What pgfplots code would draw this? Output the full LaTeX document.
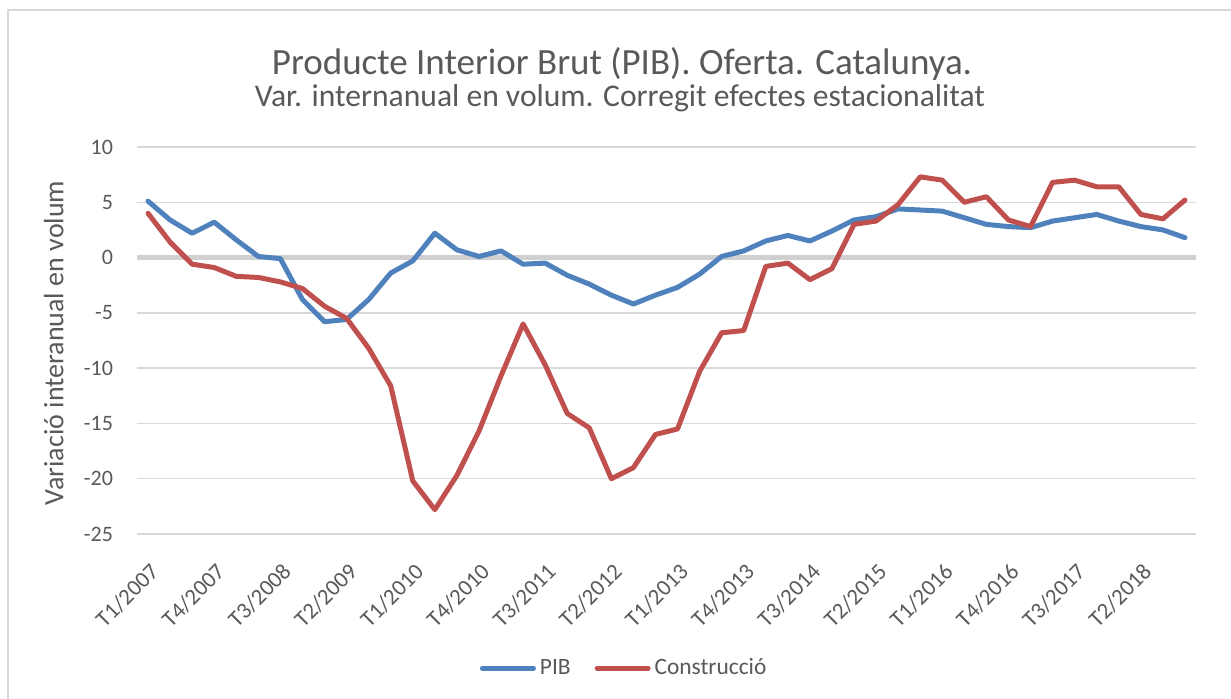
\documentclass[border=0pt]{standalone}
\usepackage{pgfplots}
\pgfplotsset{compat=1.18}
\usepackage{pgfplotstable}
\usepackage{fontspec}
\setmainfont{Carlito}
\definecolor{pibblue}{HTML}{4F81BD}
\definecolor{conred}{HTML}{C0504D}
\definecolor{txtgray}{HTML}{595959}
\definecolor{gridgray}{HTML}{D9D9D9}
\definecolor{zerogray}{HTML}{D0D0D0}
\definecolor{framegray}{HTML}{D9D9D9}

\pgfplotstableread{
i pib con
0 5.1 4.0
1 3.4 1.4
2 2.2 -0.6
3 3.2 -0.9
4 1.6 -1.7
5 0.1 -1.8
6 -0.1 -2.2
7 -3.8 -2.8
8 -5.8 -4.4
9 -5.6 -5.5
10 -3.8 -8.2
11 -1.4 -11.6
12 -0.3 -20.2
13 2.2 -22.8
14 0.7 -19.7
15 0.1 -15.7
16 0.6 -10.7
17 -0.6 -6.0
18 -0.5 -9.7
19 -1.6 -14.1
20 -2.4 -15.4
21 -3.4 -20.0
22 -4.2 -19.0
23 -3.4 -16.0
24 -2.7 -15.5
25 -1.5 -10.3
26 0.1 -6.8
27 0.6 -6.6
28 1.5 -0.8
29 2.0 -0.5
30 1.5 -2.0
31 2.4 -1.0
32 3.4 3.0
33 3.7 3.3
34 4.4 4.8
35 4.3 7.3
36 4.2 7.0
37 3.6 5.0
38 3.0 5.5
39 2.8 3.4
40 2.7 2.8
41 3.3 6.8
42 3.6 7.0
43 3.9 6.4
44 3.3 6.4
45 2.8 3.9
46 2.5 3.5
47 1.8 5.2
}\datatable

\begin{document}
\begin{tikzpicture}
\path[use as bounding box] (0pt,0pt) rectangle (615.5pt,349.5pt);
\draw[framegray, line width=0.75pt] (4pt,0pt) -- (4pt,344.5pt) -- (615.5pt,344.5pt);
\node[anchor=base, font=\fontsize{18.5pt}{21pt}\selectfont, text=txtgray, inner sep=0pt] at (311pt,312pt) {Producte Interior Brut (PIB). Oferta. Catalunya.};
\node[anchor=base, font=\fontsize{15.8pt}{18pt}\selectfont, text=txtgray, inner sep=0pt] at (310pt,296pt) {Var. internanual en volum. Corregit efectes estacionalitat};
\begin{axis}[
  at={(68.5pt,82.5pt)}, anchor=south west,
  scale only axis,
  width=529.5pt, height=193.5pt,
  xmin=-0.5, xmax=47.5,
  ymin=-25, ymax=10,
  ytick={-25,-20,...,10},
  xtick={0,3,...,45},
  xticklabels={T1/2007,T4/2007,T3/2008,T2/2009,T1/2010,T4/2010,T3/2011,T2/2012,T1/2013,T4/2013,T3/2014,T2/2015,T1/2016,T4/2016,T3/2017,T2/2018},
  axis line style={draw=none},
  major tick length=0pt,
  ymajorgrids,
  grid style={gridgray, line width=0.75pt},
  tick label style={text=txtgray},
  /pgf/number format/assume math mode=true,
  yticklabel style={font=\fontsize{11pt}{13pt}\selectfont, anchor=east, xshift=-8.5pt},
  xticklabel style={font=\fontsize{11.4pt}{13pt}\selectfont, rotate=45, anchor=north east, inner sep=0pt, xshift=-9.5pt, yshift=-10pt},
  ylabel={Variació interanual en volum},
  ylabel style={font=\fontsize{14pt}{16pt}\selectfont, text=txtgray, at={(axis description cs:-0.0785,0.494)}, anchor=center},
  legend style={at={(axis description cs:0.461,-0.347)}, anchor=center, draw=none, legend columns=2, font=\fontsize{11.7pt}{13pt}\selectfont, text=txtgray, /tikz/every even column/.append style={column sep=10pt}},
  legend image code/.code={\draw[line width=2.5pt, line cap=round] (0pt,0pt) -- (25.5pt,0pt);},
  clip=false,
]
\draw[zerogray, line width=2.5pt] (axis cs:-0.5,0) -- (axis cs:47.5,0);
\addplot[pibblue, line width=2.5pt, line join=round, line cap=round] table[x=i, y=pib] {\datatable};
\addlegendentry{PIB}
\addplot[conred, line width=2.5pt, line join=round, line cap=round] table[x=i, y=con] {\datatable};
\addlegendentry{Construcció}
\end{axis}
\end{tikzpicture}
\end{document}
